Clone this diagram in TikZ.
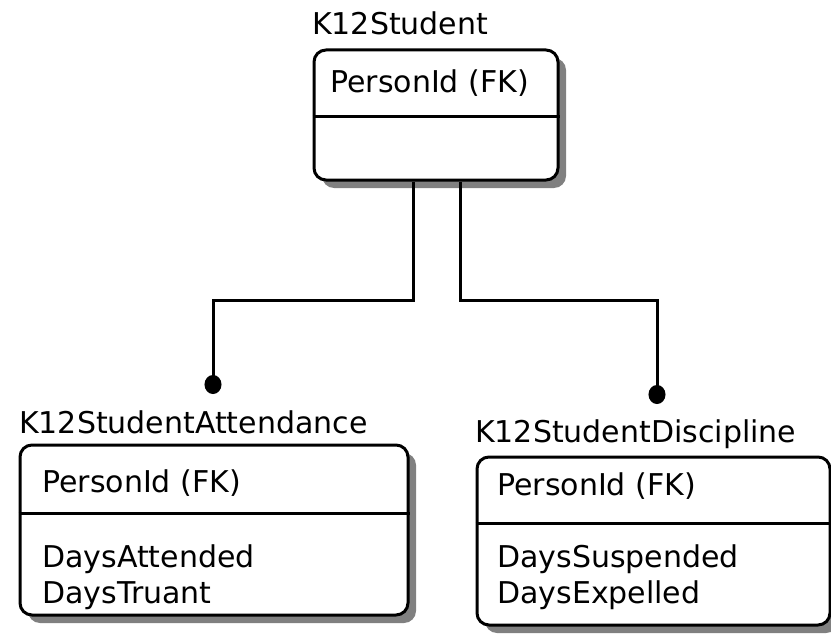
\documentclass[tikz,border=0pt]{standalone}
\usepackage{fontspec}
\setmainfont{DejaVu Sans}
\usetikzlibrary{arrows.meta,shadows}

\begin{document}
\begin{tikzpicture}[x=1pt, y=-1pt,
    entity/.style={rectangle, draw, line width=3pt, rounded corners=12pt, fill=white,
        drop shadow={shadow xshift=8pt, shadow yshift=-8pt, fill=black!50, opacity=1}},
    label/.style={anchor=base west, inner sep=0pt, font=\fontsize{30}{35}\selectfont},
    rel/.style={line width=3pt, -{Circle[length=19pt 0, width=17pt 0]}}]
    \useasboundingbox (0,0) rectangle (831,642);
    % Nodes
    \node[entity, minimum width=244pt, minimum height=130pt] (student) at (436,115) {};
    \node[entity, minimum width=388pt, minimum height=170pt] (attendance) at (214,530) {};
    \node[entity, minimum width=353pt, minimum height=168pt] (discipline) at (653.5,541) {};
    \draw[line width=3pt] (student.west |- 0,117) -- (student.east |- 0,117);
    \draw[line width=3pt] (attendance.west |- 0,513) -- (attendance.east |- 0,513);
    \draw[line width=3pt] (discipline.west |- 0,523) -- (discipline.east |- 0,523);
    \node[label] (studentTitle) at (312,35) {K12Student};
    \node[label] (studentKey) at (330,93) {PersonId (FK)};
    \node[label] (attTitle) at (19,433) {K12StudentAttendance};
    \node[label] (attKey) at (42,492) {PersonId (FK)};
    \node[label] (attDays) at (42,567) {DaysAttended};
    \node[label] (attTruant) at (42,603) {DaysTruant};
    \node[label] (discTitle) at (475,442) {K12StudentDiscipline};
    \node[label] (discKey) at (497,495) {PersonId (FK)};
    \node[label] (discSusp) at (497,567) {DaysSuspended};
    \node[label] (discExp) at (497,603) {DaysExpelled};
    \coordinate (split) at (0,300);
    \coordinate (attEnd) at (213,394);
    \coordinate (discEnd) at (657,404);
    % Edges
    \draw[rel] ([xshift=-23pt]student.south) |- (split -| attEnd) -- (attEnd);
    \draw[rel] ([xshift=24pt]student.south) |- (split -| discEnd) -- (discEnd);
\end{tikzpicture}
\end{document}
